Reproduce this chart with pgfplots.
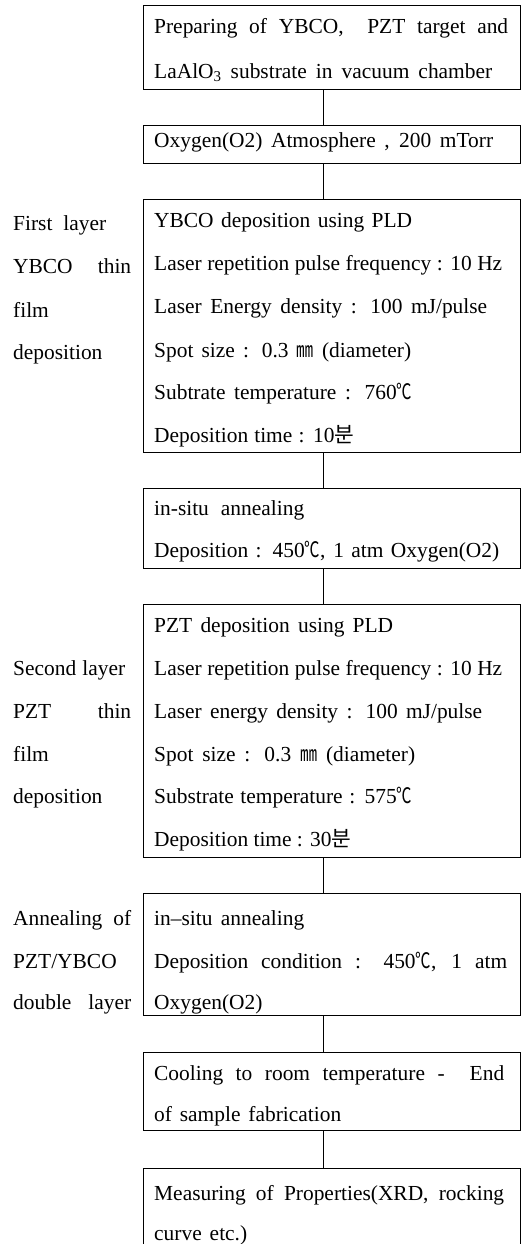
\documentclass[border=0pt]{standalone}
\usepackage{pgfplots}
\pgfplotsset{compat=1.18}
\usepackage{graphicx}
\usepackage{fontspec}
\setmainfont{Liberation Serif}
\newfontfamily\cjk{Noto Sans CJK KR}
\newcommand{\degc}{\scalebox{0.72}[1]{\cjk ℃}}
\newcommand{\mmsq}{\scalebox{0.8}[1]{\cjk ㎜}}
\newlength\tmpw
\newcommand{\w}[2]{\settowidth{\tmpw}{#2}\ifdim\tmpw<#1bp\makebox[#1bp][s]{#2}\else #2\fi}
\begin{document}
\fontsize{21.5}{26}\selectfont
\begin{tikzpicture}
\begin{axis}[width=526bp,height=1244bp,scale only axis,
  xmin=0,xmax=526,ymin=0,ymax=1244,y dir=reverse,
  axis lines=none,clip=false]
% boxes
\addplot[black,line width=1bp,mark=none] coordinates {(143,5)(520,5)(520,89)(143,89)(143,5)};
\addplot[black,line width=1bp,mark=none] coordinates {(143,125)(520,125)(520,163)(143,163)(143,125)};
\addplot[black,line width=1bp,mark=none] coordinates {(143,199)(520,199)(520,452)(143,452)(143,199)};
\addplot[black,line width=1bp,mark=none] coordinates {(143,488)(520,488)(520,568)(143,568)(143,488)};
\addplot[black,line width=1bp,mark=none] coordinates {(143,604)(520,604)(520,857)(143,857)(143,604)};
\addplot[black,line width=1bp,mark=none] coordinates {(143,893)(520,893)(520,1015)(143,1015)(143,893)};
\addplot[black,line width=1bp,mark=none] coordinates {(143,1052)(520,1052)(520,1130)(143,1130)(143,1052)};
\addplot[black,line width=1bp,mark=none] coordinates {(143,1244)(143,1168)(520,1168)(520,1244)};
% connectors
\addplot[black,line width=1bp,mark=none] coordinates {(323,89)(323,125)};
\addplot[black,line width=1bp,mark=none] coordinates {(323,163)(323,199)};
\addplot[black,line width=1bp,mark=none] coordinates {(323,452)(323,488)};
\addplot[black,line width=1bp,mark=none] coordinates {(323,568)(323,604)};
\addplot[black,line width=1bp,mark=none] coordinates {(323,857)(323,893)};
\addplot[black,line width=1bp,mark=none] coordinates {(323,1015)(323,1052)};
\addplot[black,line width=1bp,mark=none] coordinates {(323,1130)(323,1168)};
% box texts
\begin{scope}[every node/.style={anchor=base west,inner sep=0pt}]
\node at (axis cs:154,33) {\w{354}{Preparing of YBCO,\ \ PZT target and}};
\node at (axis cs:154,78) {\w{338}{LaAlO\textsubscript{3} substrate in vacuum chamber}};
\node at (axis cs:154,147) {\w{339}{Oxygen(O2) Atmosphere , 200 mTorr}};
\node at (axis cs:154,227) {\w{258}{YBCO deposition using PLD}};
\node at (axis cs:154,270) {\w{348}{Laser repetition pulse frequency : 10 Hz}};
\node at (axis cs:154,313) {\w{333}{Laser Energy density : 100 mJ/pulse}};
\node at (axis cs:154,357) {\w{257}{Spot size : 0.3 \mmsq\ (diameter)}};
\node at (axis cs:154,399) {\w{258}{Subtrate temperature : 760\degc}};
\node at (axis cs:154,442) {\w{200}{Deposition time : 10{\cjk 분}}};
\node at (axis cs:154,515) {\w{150}{in-situ annealing}};
\node at (axis cs:154,557) {\w{345}{Deposition : 450\degc, 1 atm Oxygen(O2)}};
\node at (axis cs:154,632) {\w{239}{PZT deposition using PLD}};
\node at (axis cs:154,675) {\w{348}{Laser repetition pulse frequency : 10 Hz}};
\node at (axis cs:154,718) {\w{328}{Laser energy density : 100 mJ/pulse}};
\node at (axis cs:154,761) {\w{261}{Spot size : 0.3 \mmsq\ (diameter)}};
\node at (axis cs:154,803) {\w{258}{Substrate temperature : 575\degc}};
\node at (axis cs:154,846) {\w{197}{Deposition time : 30{\cjk 분}}};
\node at (axis cs:154,925) {\w{150}{in--situ annealing}};
\node at (axis cs:154,968) {\w{353}{Deposition condition : 450\degc, 1 atm}};
\node at (axis cs:154,1009) {Oxygen(O2)};
\node at (axis cs:154,1080) {\w{350}{Cooling to room temperature -\ \ End}};
\node at (axis cs:154,1121) {\w{187}{of sample fabrication}};
\node at (axis cs:154,1200) {\w{350}{Measuring of Properties(XRD, rocking}};
\node at (axis cs:154,1240) {\w{93}{curve etc.)}};
% left labels
\node at (axis cs:13,230) {\w{93}{First layer}};
\node at (axis cs:13,273) {\w{118}{YBCO thin}};
\node at (axis cs:13,317) {film};
\node at (axis cs:13,359) {deposition};
\node at (axis cs:13,675) {\w{112}{Second layer}};
\node at (axis cs:13,718) {\w{118}{PZT thin}};
\node at (axis cs:13,761) {film};
\node at (axis cs:13,803) {deposition};
\node at (axis cs:13,925) {\w{118}{Annealing of}};
\node at (axis cs:13,968) {PZT/YBCO};
\node at (axis cs:13,1009) {\w{118}{double layer}};
\end{scope}
\end{axis}
\pgfresetboundingbox
\path (current axis.south west) rectangle (current axis.north east);
\end{tikzpicture}
\end{document}
